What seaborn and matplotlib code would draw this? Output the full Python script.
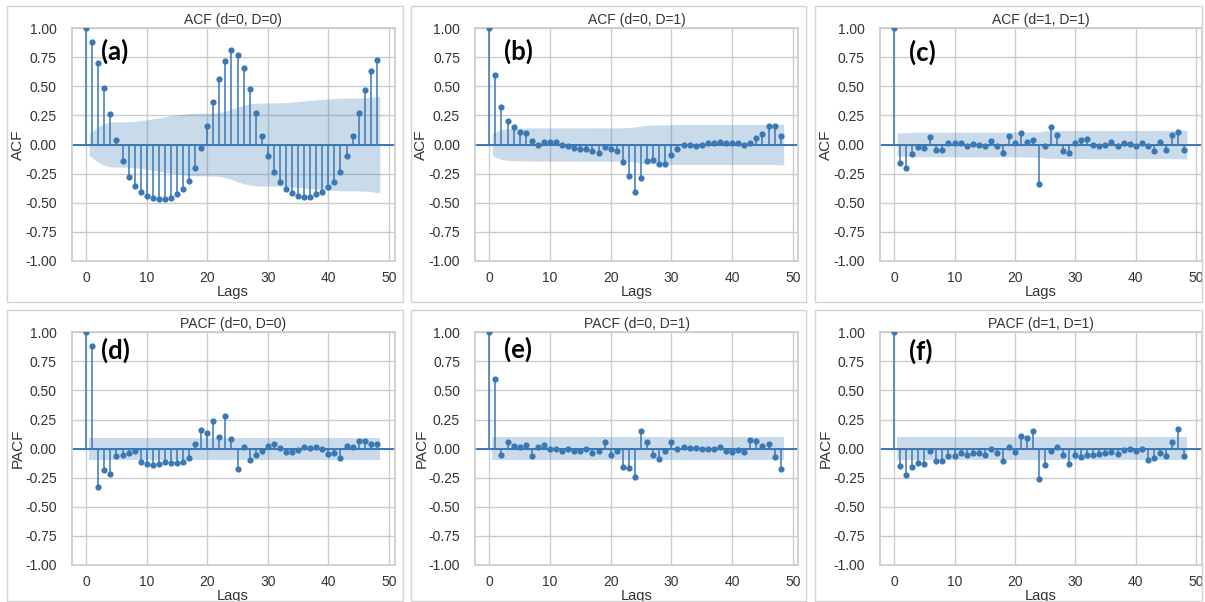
import numpy as np
import matplotlib
matplotlib.use("Agg")
import matplotlib.pyplot as plt
import seaborn as sns
from matplotlib.patches import Rectangle

# ACF / PACF of the series for different orders of differencing (lags 0..48)
lags = np.arange(49)

acf_d0_D0 = [1.00, 0.88, 0.70, 0.49, 0.26, 0.04, -0.14, -0.28, -0.36, -0.41,
             -0.44, -0.46, -0.47, -0.47, -0.46, -0.43, -0.38, -0.31, -0.20, -0.03,
             0.16, 0.37, 0.56, 0.72, 0.81, 0.77, 0.66, 0.48, 0.27, 0.07,
             -0.10, -0.24, -0.32, -0.38, -0.42, -0.44, -0.45, -0.45, -0.43, -0.41,
             -0.37, -0.32, -0.24, -0.10, 0.07, 0.27, 0.47, 0.63, 0.73]

acf_d0_D1 = [1.00, 0.60, 0.32, 0.20, 0.15, 0.11, 0.10, 0.03, 0.00, 0.02,
             0.025, 0.02, 0.00, -0.015, -0.03, -0.04, -0.04, -0.06, -0.075, -0.025,
             -0.04, -0.055, -0.15, -0.27, -0.41, -0.285, -0.145, -0.13, -0.17, -0.165,
             -0.09, -0.035, 0.00, -0.005, -0.01, 0.00, 0.01, 0.01, 0.02, 0.015,
             0.01, 0.01, 0.00, 0.01, 0.06, 0.09, 0.155, 0.155, 0.075]

acf_d1_D1 = [1.00, -0.155, -0.20, -0.078, -0.02, -0.03, 0.063, -0.046, -0.049, 0.017,
             0.014, 0.014, -0.01, 0.003, 0.00, -0.01, 0.03, -0.01, -0.07, 0.07,
             0.01, 0.10, 0.025, 0.035, -0.34, -0.017, 0.15, 0.078, -0.055, -0.075,
             0.014, 0.04, 0.05, 0.00, -0.015, -0.005, 0.02, -0.01, 0.013, 0.008,
             -0.01, 0.013, -0.017, -0.055, 0.02, -0.046, 0.086, 0.11, -0.05]

pacf_d0_D0 = [1.00, 0.88, -0.33, -0.186, -0.22, -0.06, -0.057, -0.035, -0.02, -0.115,
              -0.135, -0.138, -0.13, -0.115, -0.123, -0.126, -0.118, -0.08, 0.037, 0.163,
              0.132, 0.238, 0.097, 0.284, 0.08, -0.178, 0.017, -0.097, -0.054, -0.023,
              0.02, 0.043, 0.009, -0.03, -0.03, -0.014, 0.014, 0.009, 0.014, -0.006,
              -0.046, -0.04, -0.083, 0.023, 0.014, 0.069, 0.066, 0.043, 0.037]

pacf_d0_D1 = [1.00, 0.60, -0.055, 0.057, 0.023, 0.011, 0.029, -0.066, 0.014, 0.032,
              -0.003, 0.00, -0.02, -0.003, -0.02, -0.02, 0.00, -0.04, -0.02, 0.057,
              -0.057, -0.017, -0.158, -0.163, -0.246, 0.155, 0.057, -0.055, -0.092, -0.017,
              0.06, -0.003, 0.014, 0.003, 0.009, -0.003, -0.003, -0.003, 0.011, -0.023,
              -0.03, -0.009, -0.026, 0.075, 0.063, 0.02, 0.037, -0.075, -0.178]

pacf_d1_D1 = [1.00, -0.152, -0.224, -0.158, -0.126, -0.129, -0.023, -0.103, -0.109, -0.066,
              -0.066, -0.04, -0.057, -0.037, -0.037, -0.052, -0.006, -0.037, -0.103, 0.014,
              -0.03, 0.109, 0.089, 0.155, -0.264, -0.138, -0.02, 0.011, -0.057, -0.132,
              -0.055, -0.069, -0.052, -0.052, -0.043, -0.037, -0.029, -0.043, -0.009, -0.006,
              -0.017, -0.003, -0.097, -0.08, -0.04, -0.06, 0.057, 0.166, -0.063]

# number of observations behind each estimate (sets the 95% band width)
n_obs_D0 = 420
n_obs_D1 = 396

BLUE = "#3a78b5"
TXT = "#333333"
W, H = 1205, 602

sns.set_theme(style="whitegrid")
plt.rcParams["font.family"] = ["Liberation Sans", "DejaVu Sans"]

fig = plt.figure(figsize=(W / 100, H / 100), dpi=100)


def add_axes_px(left, right, top, bottom):
    return fig.add_axes([left / W, 1 - bottom / H, (right - left) / W, (bottom - top) / H])


def draw_panel(ax, values, kind, n_obs, title, tag, tag_y):
    vals = np.asarray(values, dtype=float)
    # 95% confidence band (Bartlett for ACF, 1.96/sqrt(n) for PACF)
    if kind == "ACF":
        var = np.ones(len(vals)) / n_obs
        var[2:] *= 1 + 2 * np.cumsum(vals[1:-1] ** 2)
        half = 1.96 * np.sqrt(var[1:])
    else:
        half = np.full(len(vals) - 1, 1.96 / np.sqrt(n_obs))
    bx = lags[1:].astype(float)
    bx[0] -= 0.5
    bx[-1] += 0.5
    ax.fill_between(bx, -half, half, color=BLUE, alpha=0.27, lw=0)
    ax.axhline(0, color=BLUE, lw=1.4)
    ax.vlines(lags, 0, vals, color=BLUE, lw=1.1)
    sns.scatterplot(x=lags, y=vals, ax=ax, color=BLUE, s=20, linewidth=0, zorder=3)

    ax.set_xlim(-2.425, 50.925)
    ax.set_ylim(-1, 1)
    ax.set_xticks([0, 10, 20, 30, 40, 50])
    ax.set_yticks(np.arange(-1, 1.01, 0.25))
    ax.yaxis.set_major_formatter(matplotlib.ticker.FormatStrFormatter("%.2f"))
    ax.tick_params(axis="x", labelsize=10, colors=TXT, pad=1.5)
    ax.tick_params(axis="y", labelsize=10, colors=TXT, pad=4.5)
    ax.set_title(title, fontsize=10, color=TXT, pad=3)
    ax.set_xlabel("Lags", fontsize=10.5, color=TXT, labelpad=0)
    ax.set_ylabel(kind, fontsize=11, color=TXT, labelpad=0)
    ax.text(2.5, tag_y, tag, fontsize=18.5, fontweight="bold", va="top", ha="left",
            family=["Lato", "DejaVu Sans"], color="black")


cols = [(71.5, 394.5), (474.6, 798.4), (879.5, 1201.6)]
rows = [(28.3, 260.7), (332.3, 565.0)]

panels = [
    (0, 0, acf_d0_D0, "ACF", n_obs_D0, "ACF (d=0, D=0)", "(a)", 0.915),
    (0, 1, acf_d0_D1, "ACF", n_obs_D1, "ACF (d=0, D=1)", "(b)", 0.915),
    (0, 2, acf_d1_D1, "ACF", n_obs_D1, "ACF (d=1, D=1)", "(c)", 0.905),
    (1, 0, pacf_d0_D0, "PACF", n_obs_D0, "PACF (d=0, D=0)", "(d)", 0.95),
    (1, 1, pacf_d0_D1, "PACF", n_obs_D1, "PACF (d=0, D=1)", "(e)", 0.96),
    (1, 2, pacf_d1_D1, "PACF", n_obs_D1, "PACF (d=1, D=1)", "(f)", 0.945),
]

for r, c, vals, kind, n_obs, title, tag, tag_y in panels:
    ax = add_axes_px(cols[c][0], cols[c][1], rows[r][0], rows[r][1])
    draw_panel(ax, vals, kind, n_obs, title, tag, tag_y)

# light grey frames around each sub-figure
frame_x = [(7, 403), (411, 806), (815, 1202)]
frame_y = [(6, 302), (310, 601)]
for (y0, y1) in frame_y:
    for (x0, x1) in frame_x:
        fig.add_artist(Rectangle((x0 / W, 1 - y1 / H), (x1 - x0) / W, (y1 - y0) / H,
                                 transform=fig.transFigure, fill=False,
                                 edgecolor="#d4d4d4", lw=1.0, zorder=10))

fig.savefig("out.png", dpi=100)
